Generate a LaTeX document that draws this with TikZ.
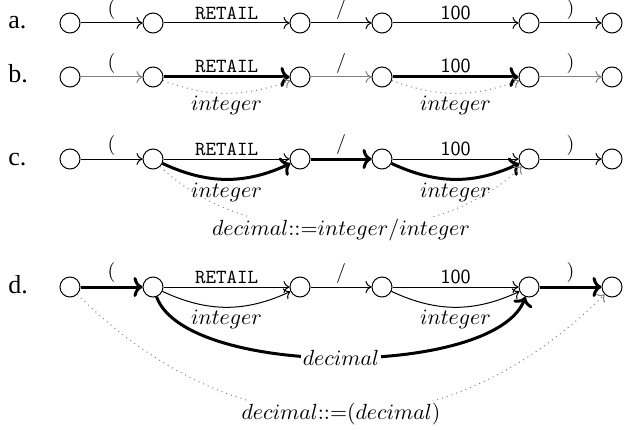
\documentclass[tikz,border=0pt]{standalone}
\usepackage{fontspec}
\usepackage{tikz}
\usetikzlibrary{arrows.meta}
\newfontfamily\rowfont{Liberation Serif}

\tikzset{
  state/.style={circle, draw, line width=0.5pt, minimum size=10pt, inner sep=0pt},
  rowlab/.style={anchor=base west, inner sep=0pt, font=\rowfont\fontsize{13}{15}\selectfont},
  lab/.style={above, inner sep=1.5pt},
  sublab/.style={below, inner sep=1pt, font=\fontsize{11}{13}\selectfont},
  midlab/.style={fill=white, inner sep=1pt, font=\fontsize{11}{13}\selectfont},
  thinedge/.style={line width=0.5pt, -{To[length=3pt,width=6pt]}},
  greyedge/.style={thinedge, draw=gray},
  thickedge/.style={line width=1.5pt, -{To[length=4.5pt,width=10pt]}},
  dotedge/.style={draw=gray, dotted, line width=0.5pt, -{To[length=3pt,width=6pt]}}
}

\begin{document}
\begin{tikzpicture}[x=0.5pt, y=0.5pt]
	\useasboundingbox (0,0) rectangle (635,429);
	
	% states of the four rows
	\foreach \r/\y in {a/406,b/352,c/270,d/142}{
		\node[rowlab] at (8,\y-6) {\r.};
		\foreach \i/\x in {1/70,2/153,3/300,4/382,5/529,6/612}
			\node[state] (\r\i) at (\x,\y) {};
	}
	
	% a.
	\draw[thinedge] (a1) -- node[lab] {(} (a2);
	\draw[thinedge] (a2) -- node[lab] {\texttt{RETAIL}} (a3);
	\draw[thinedge] (a3) -- node[lab] {/} (a4);
	\draw[thinedge] (a4) -- node[lab] {\textsf{100}} (a5);
	\draw[thinedge] (a5) -- node[lab] {)} (a6);
	
	% b.
	\draw[greyedge] (b1) -- node[lab] {(} (b2);
	\draw[thickedge] (b2) -- node[lab] {\texttt{RETAIL}} (b3);
	\draw[greyedge] (b3) -- node[lab] {/} (b4);
	\draw[thickedge] (b4) -- node[lab] {\textsf{100}} (b5);
	\draw[greyedge] (b5) -- node[lab] {)} (b6);
	\draw[dotedge] (b2) to[bend right=20] node[sublab] {$integer$} (b3);
	\draw[dotedge] (b4) to[bend right=20] node[sublab] {$integer$} (b5);
	
	% c.
	\draw[thinedge] (c1) -- node[lab] {(} (c2);
	\draw[thinedge] (c2) -- node[lab] {\texttt{RETAIL}} (c3);
	\draw[thickedge] (c3) -- node[lab] {/} (c4);
	\draw[thinedge] (c4) -- node[lab] {\textsf{100}} (c5);
	\draw[thinedge] (c5) -- node[lab] {)} (c6);
	\draw[thickedge] (c2) to[bend right=25] node[sublab] {$integer$} (c3);
	\draw[thickedge] (c4) to[bend right=25] node[sublab] {$integer$} (c5);
	\draw[dotedge] (c2) to[out=-45, in=-135, looseness=0.85]
		node[midlab] {$decimal{::=}integer/integer$} (c5);
	
	% d.
	\draw[thickedge] (d1) -- node[lab] {(} (d2);
	\draw[thinedge] (d2) -- node[lab] {\texttt{RETAIL}} (d3);
	\draw[thinedge] (d3) -- node[lab] {/} (d4);
	\draw[thinedge] (d4) -- node[lab] {\textsf{100}} (d5);
	\draw[thickedge] (d5) -- node[lab] {)} (d6);
	\draw[thinedge] (d2) to[bend right=25] node[sublab] {$integer$} (d3);
	\draw[thinedge] (d4) to[bend right=25] node[sublab] {$integer$} (d5);
	\draw[thickedge] (d2) to[out=-70, in=-110, looseness=0.6]
		node[midlab] {$decimal$} (d5);
	\draw[dotedge] (d1) to[out=-45, in=-135, looseness=1.1]
		node[midlab] {$decimal{::=}(decimal)$} (d6);
\end{tikzpicture}
\end{document}
